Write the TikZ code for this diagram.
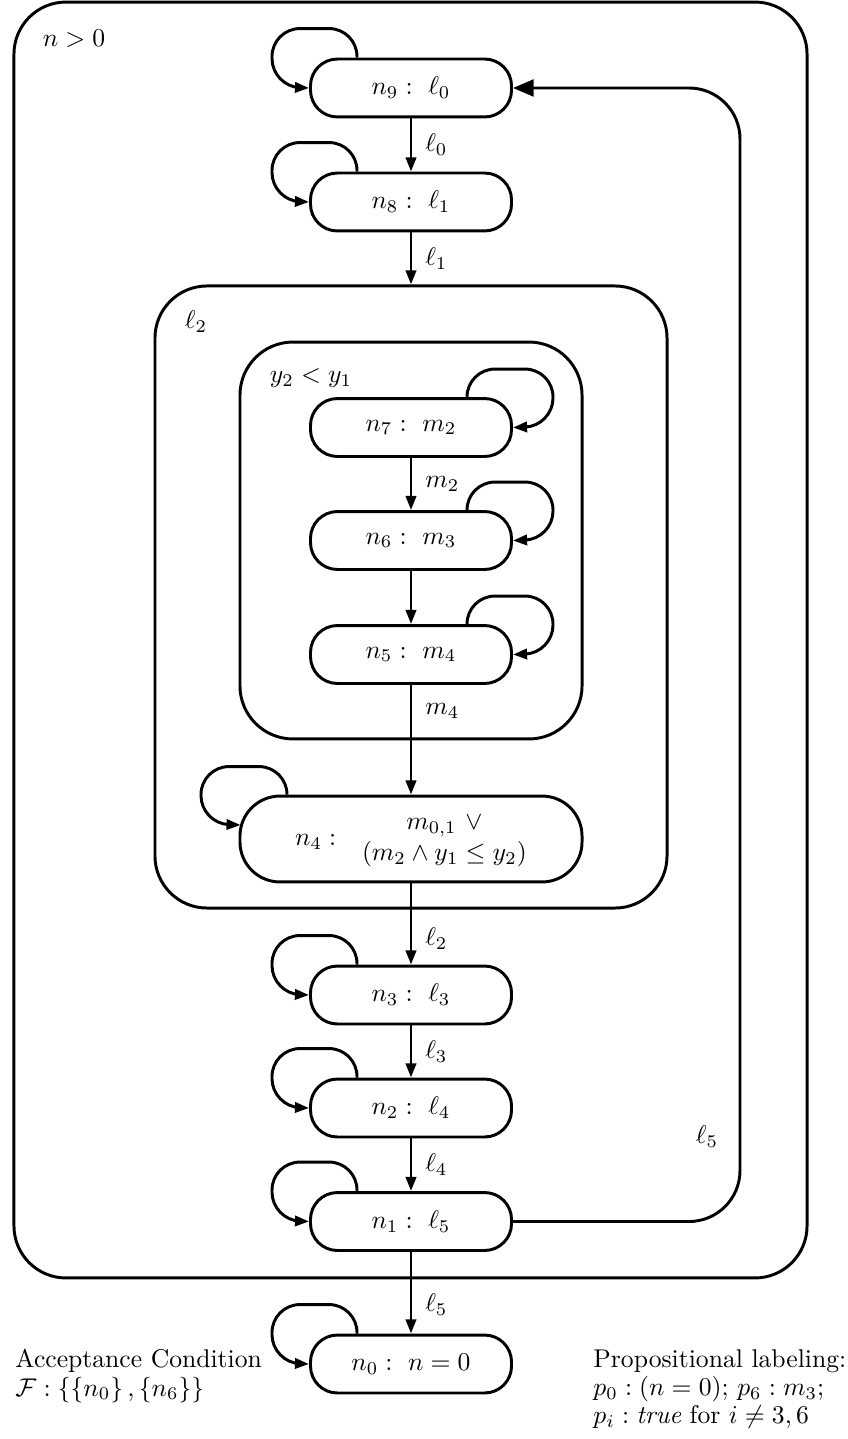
\documentclass[tikz,border=0pt]{standalone}
\usetikzlibrary{arrows.meta}
\begin{document}
\begin{tikzpicture}[x=0.39pt,y=-0.39pt,
  line width=1.15pt,
  sn/.style={draw, rounded corners=10.5pt, minimum width=78.4pt, minimum height=22.6pt, inner sep=0pt},
  bigbox/.style={draw, rounded corners=20.3pt, inner sep=0pt},
  arr/.style={-{Triangle[length=5.5pt,width=4pt]}},
  bigarr/.style={-{Triangle[length=8pt,width=6.5pt]}},
  lab/.style={right, inner sep=0pt, xshift=5pt},
  loopl/.style={arr, rounded corners=10.9pt},
]
\useasboundingbox (0,0) rectangle (847,1439);

% boxes
\node[bigbox, minimum width=309.3pt, minimum height=497.6pt] (outer) at (410.5,640) {};
\node[bigbox, minimum width=199.7pt, minimum height=242.6pt] (L2) at (411,597) {};
\node[bigbox, rounded corners=20.7pt, minimum width=133.4pt, minimum height=154.8pt] (inner) at (411,540.5) {};

% box labels
\node (lgt) at (74,39) {$n>0$};
\node (l2lab) at (196,322) {$\ell_2$};
\node (ylab) at (311,378) {$y_2<y_1$};
\node (l5lab) at (707,1137) {$\ell_5$};

% states
\node[sn] (n9) at (411,88) {$n_9:\ \ell_0$};
\node[sn] (n8) at (411,202) {$n_8:\ \ell_1$};
\node[sn] (n7) at (411,427.5) {$n_7:\ m_2$};
\node[sn] (n6) at (411,540.5) {$n_6:\ m_3$};
\node[sn] (n5) at (411,654.5) {$n_5:\ m_4$};
\node[sn, minimum width=133.4pt, minimum height=33.5pt, rounded corners=15.6pt] (n4) at (411,839)
  {$n_4:$\quad\begin{tabular}{@{}c@{}}$m_{0,1}\ \vee$\\$(m_2\wedge y_1\leq y_2)$\end{tabular}\hspace{4.7pt}};
\node[sn] (n3) at (411,995) {$n_3:\ \ell_3$};
\node[sn] (n2) at (411,1108) {$n_2:\ \ell_4$};
\node[sn] (n1) at (411,1221.5) {$n_1:\ \ell_5$};
\node[sn] (n0) at (411,1364) {$n_0:\ n=0$};

% transitions
\draw[arr] (n9) -- node[lab]{$\ell_0$} (n8);
\draw[arr] (n8) -- node[lab]{$\ell_1$} (L2);
\draw[arr] (n7) -- node[lab]{$m_2$} (n6);
\draw[arr] (n6) -- (n5);
\draw[arr] (n5) -- node[lab, pos=0.24]{$m_4$} (n4);
\draw[arr] (n4) -- node[lab, pos=0.68]{$\ell_2$} (n3);
\draw[arr] (n3) -- node[lab]{$\ell_3$} (n2);
\draw[arr] (n2) -- node[lab]{$\ell_4$} (n1);
\draw[arr] (n1) -- node[lab, pos=0.65]{$\ell_5$} (n0);

% self loops
\foreach \n in {n9,n8,n3,n2,n1,n0}
  \draw[loopl] ([xshift=-21.06pt]\n.north) -- ++(0,-29) -- ++(-85,0) -- ++(0,58) -- (\n.west);
\foreach \n in {n7,n6,n5}
  \draw[loopl] ([xshift=21.84pt]\n.north) -- ++(0,-28) -- ++(86,0) -- ++(0,57) -- (\n.east);
\draw[loopl] ([xshift=-48.36pt]n4.north) -- ++(0,-28) -- ++(-86,0) -- ++(0,57) -- ([xshift=0.8pt,yshift=5.46pt]n4.west);

% back edge
\coordinate (rx) at (740,0);
\draw[bigarr, rounded corners=19.9pt] (n1.east) -- (n1.east -| rx) -- (n9.east -| rx) -- (n9.east);

% notes
\node[anchor=west, align=left, inner sep=0pt] (acc) at (14,1376)
  {Acceptance Condition\\[-1pt] $\mathcal{F}:\{\{n_0\}\,,\{n_6\}\}$};
\node[anchor=west, align=left, inner sep=0pt] (prop) at (592,1389)
  {Propositional labeling:\\[-1pt] $p_0:(n=0)$; $p_6:m_3$;\\[-1pt] $p_i:\textit{true}$ for $i\neq3,6$};
\end{tikzpicture}
\end{document}
